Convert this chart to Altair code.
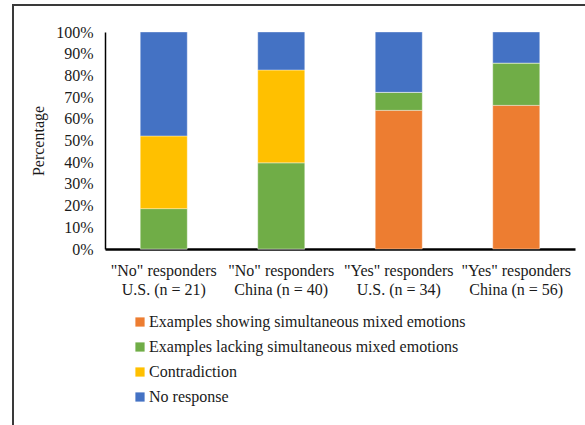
import altair as alt
import pandas as pd

categories = [
    '"No" responders|U.S. (n = 21)',
    '"No" responders|China (n = 40)',
    '"Yes" responders|U.S. (n = 34)',
    '"Yes" responders|China (n = 56)',
]
series = [
    "Examples showing simultaneous mixed emotions",
    "Examples lacking simultaneous mixed emotions",
    "Contradiction",
    "No response",
]
colors = ["#ED7D31", "#70AD47", "#FFC000", "#4472C4"]

showing = [0.0, 0.0, 63.9, 66.2]
lacking = [18.6, 39.7, 8.3, 19.5]
contradiction = [33.5, 42.8, 0.0, 0.0]
no_response = [47.9, 17.5, 27.8, 14.3]

values = [showing, lacking, contradiction, no_response]
rows = []
for si, (s, vals) in enumerate(zip(series, values)):
    for c, v in zip(categories, vals):
        rows.append({"category": c, "series": s, "order": si, "value": v})
df = pd.DataFrame(rows)

FONT = "Liberation Serif"
TXT = "#1a1a1a"

bars = alt.Chart(df).mark_bar(stroke="white", strokeWidth=0.6, strokeOpacity=0.6).encode(
    x=alt.X(
        "category:N",
        sort=categories,
        title=None,
        scale=alt.Scale(paddingInner=0.6, paddingOuter=0.3),
        axis=alt.Axis(
            labelExpr="split(datum.label, '|')",
            labelAngle=0,
            labelFont=FONT,
            labelFontSize=16,
            labelColor=TXT,
            labelLineHeight=19,
            labelPadding=13,
            ticks=False,
            domainColor="black",
            domainWidth=2.5,
            labelBaseline="top",
        ),
    ),
    y=alt.Y(
        "value:Q",
        stack="normalize",
        title="Percentage",
        scale=alt.Scale(domain=[0, 1]),
        axis=alt.Axis(
            format=".0%",
            values=[i / 10 for i in range(11)],
            grid=False,
            ticks=False,
            labelFont=FONT,
            labelFontSize=16,
            labelColor=TXT,
            labelPadding=12,
            titleFont=FONT,
            titleFontSize=16,
            titleFontWeight="normal",
            titleColor=TXT,
            titlePadding=9,
            domainColor="black",
            domainWidth=1.5,
        ),
    ),
    color=alt.Color(
        "series:N",
        sort=series,
        scale=alt.Scale(domain=series, range=colors),
        legend=alt.Legend(
            title=None,
            orient="none",
            legendX=27,
            legendY=282,
            direction="vertical",
            symbolType="square",
            symbolSize=85,
            symbolStrokeWidth=0,
            labelFont=FONT,
            labelFontSize=16,
            labelColor=TXT,
            labelOffset=1,
            rowPadding=9,
            padding=0,
            labelLimit=600,
        ),
    ),
    order=alt.Order("order:Q", sort="ascending"),
)

frame_left = alt.Chart(alt.Data(values=[{}])).mark_rule(color="#3a3a3a", strokeWidth=2).encode(
    x=alt.value(-92), y=alt.value(-27), y2=alt.value(400)
)
frame_top = alt.Chart(alt.Data(values=[{}])).mark_rule(color="#3a3a3a", strokeWidth=2).encode(
    x=alt.value(-93), x2=alt.value(490), y=alt.value(-27)
)

chart = alt.layer(bars, frame_left, frame_top).properties(
    width=470,
    height=217,
    autosize=alt.AutoSizeParams(type="none"),
    padding={"left": 105, "top": 32, "right": 10, "bottom": 176},
).configure(background="white", font=FONT).configure_view(stroke=None).configure_legend(
    labelFont=FONT
).configure_axis(labelFont=FONT, titleFont=FONT)

chart.save("out.html", embed_options={"renderer": "svg", "actions": False})
